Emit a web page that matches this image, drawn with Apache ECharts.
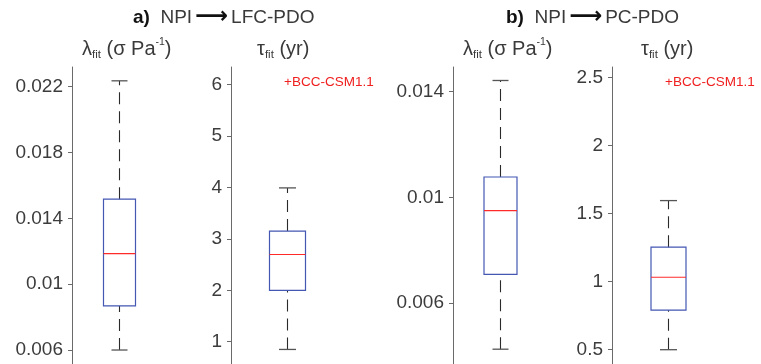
<!DOCTYPE html>
<html><head><meta charset="utf-8">
<script src="https://cdn.jsdelivr.net/npm/echarts@6/dist/echarts.min.js"></script>
<style>html,body{margin:0;padding:0;background:#fff}#c{width:761px;height:364px}</style>
</head><body><div id="c"></div>
<script>
// box statistics: [min, q1, median, q3, max]
const lambdaLFC = [0.0060, 0.00868, 0.01186, 0.01517, 0.02236];
const tauLFC    = [0.85, 2.00, 2.695, 3.15, 3.99];
const lambdaPC  = [0.00426, 0.00709, 0.0095, 0.01077, 0.01442];
const tauPC     = [0.50, 0.79, 1.032, 1.253, 1.595];
// tick values
const ticksLambdaLFC = [0.006, 0.01, 0.014, 0.018, 0.022];
const ticksTauLFC    = [1, 2, 3, 4, 5, 6];
const ticksLambdaPC  = [0.006, 0.01, 0.014];
const ticksTauPC     = [0.5, 1, 1.5, 2, 2.5];
const outlierLabel = '+BCC-CSM1.1';

const FONT = '"Liberation Sans", Arial, Helvetica, sans-serif';
const panels = [
  {stats: lambdaLFC, ticks: ticksLambdaLFC, left: 72,  width: 95,  min: 0.00515, max: 0.0232, boxW: 32, capW: 16},
  {stats: tauLFC,    ticks: ticksTauLFC,    left: 231, width: 113, min: 0.567,   max: 6.34,   boxW: 36, capW: 17},
  {stats: lambdaPC,  ticks: ticksLambdaPC,  left: 453, width: 95,  min: 0.0037,  max: 0.01493, boxW: 33, capW: 16},
  {stats: tauPC,     ticks: ticksTauPC,     left: 612, width: 113, min: 0.395,   max: 2.576,  boxW: 35, capW: 17}
];

function makeRender(boxW, capW) {
  return function (params, api) {
    const c = api.value(0);
    const p = [1,2,3,4,5].map(i => api.coord([c, api.value(i)]));
    const x = p[0][0];
    const yMin = p[0][1], yQ1 = p[1][1], yMed = p[2][1], yQ3 = p[3][1], yMax = p[4][1];
    const dash = {stroke: '#2a2a2a', lineWidth: 1.1, lineDash: [12, 7]};
    const cap = {stroke: '#555', lineWidth: 1.3};
    return {type: 'group', children: [
      {type: 'line', shape: {x1: x, y1: yQ3, x2: x, y2: yMax}, style: dash},
      {type: 'line', shape: {x1: x, y1: yMin, x2: x, y2: yQ1}, style: dash},
      {type: 'line', shape: {x1: x - capW/2, y1: yMax, x2: x + capW/2, y2: yMax}, style: cap},
      {type: 'line', shape: {x1: x - capW/2, y1: yMin, x2: x + capW/2, y2: yMin}, style: cap},
      {type: 'rect', shape: {x: x - boxW/2, y: yQ3, width: boxW, height: yQ1 - yQ3}, style: {fill: 'none', stroke: '#4357b3', lineWidth: 1.2}},
      {type: 'line', shape: {x1: x - boxW/2, y1: yMed, x2: x + boxW/2, y2: yMed}, style: {stroke: '#ff2b2b', lineWidth: 1.2}}
    ]};
  };
}

const grid = [], xAxis = [], yAxis = [], series = [];
panels.forEach((pn, i) => {
  grid.push({left: pn.left, top: 67, width: pn.width, height: 297});
  xAxis.push({type: 'category', gridIndex: i, data: [''], show: false});
  yAxis.push({
    type: 'value', gridIndex: i, min: pn.min, max: pn.max,
    splitLine: {show: false},
    axisLine: {show: true, lineStyle: {color: '#6a6a6a', width: 1}},
    axisTick: {show: true, length: 4, customValues: pn.ticks, lineStyle: {color: '#6a6a6a'}},
    axisLabel: {customValues: pn.ticks, color: '#3c3c3c', fontSize: 19, fontFamily: FONT, margin: 9,
      formatter: v => String(+v.toPrecision(6))}
  });
  series.push({
    type: 'custom', xAxisIndex: i, yAxisIndex: i,
    renderItem: makeRender(pn.boxW, pn.capW),
    data: [[0].concat(pn.stats)]
  });
});

const mainStyle = {fontSize: 20, color: '#3a3a3a', fontFamily: FONT, fontWeight: 'normal', lineHeight: 24, verticalAlign: 'middle'};
const subRich = {
  m: mainStyle,
  s: {fontSize: 11.5, color: '#3a3a3a', fontFamily: FONT, fontWeight: 'normal', lineHeight: 11, verticalAlign: 'bottom'},
  u: {fontSize: 10.5, color: '#3a3a3a', fontFamily: FONT, fontWeight: 'normal', lineHeight: 12, verticalAlign: 'top'}
};
const headRich = {
  b: {fontSize: 19, fontWeight: 'bold', color: '#111', fontFamily: FONT},
  m: {fontSize: 19, fontWeight: 'normal', color: '#3a3a3a', fontFamily: FONT},
  ar: {fontSize: 23, color: '#111', fontFamily: '"DejaVu Sans", sans-serif', fontWeight: 'bold', padding: [0, 3, 0, 3]}
};
function head(text, left) {
  return {text: text, left: left, top: 6, padding: 0, textStyle: {fontWeight: 'normal', rich: headRich}};
}
function sub(text, left) {
  return {text: text, left: left, top: 37, padding: 0, textStyle: {fontWeight: 'normal', rich: subRich}};
}
const title = [
  head('{b|a)}{m|  NPI}{ar|⟶}{m|LFC-PDO}', 133),
  head('{b|b)}{m|  NPI}{ar|⟶}{m|PC-PDO}', 506),
  sub('{m|λ}{s|fit}{m| (σ Pa}{u|-1}{m|)}', 82),
  sub('{m|τ}{s|fit}{m| (yr)}', 257),
  sub('{m|λ}{s|fit}{m| (σ Pa}{u|-1}{m|)}', 463),
  sub('{m|τ}{s|fit}{m| (yr)}', 641)
];

const chart = echarts.init(document.getElementById('c'), null, {renderer: 'canvas'});
chart.setOption({
  animation: false,
  backgroundColor: '#fff',
  title: title,
  grid: grid, xAxis: xAxis, yAxis: yAxis, series: series,
  graphic: [
    {type: 'text', left: 284, top: 75, style: {text: outlierLabel, fill: '#f02020', fontSize: 13.5, fontFamily: FONT}},
    {type: 'text', left: 665, top: 75, style: {text: outlierLabel, fill: '#f02020', fontSize: 13.5, fontFamily: FONT}}
  ]
});
</script></body></html>
